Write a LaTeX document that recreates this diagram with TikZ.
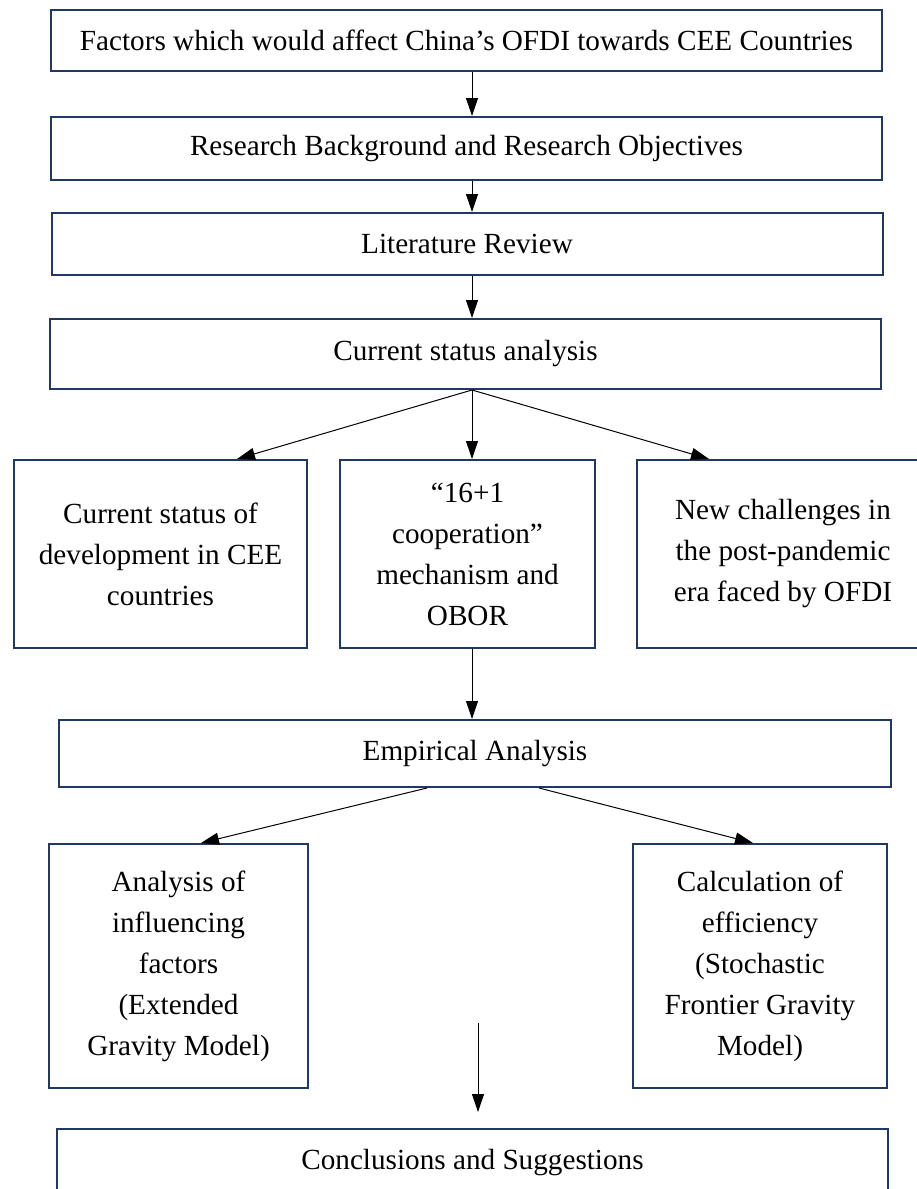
\documentclass[tikz,border=0pt]{standalone}
\usepackage{fontspec}
\setmainfont{Liberation Serif}
\usetikzlibrary{arrows.meta}
\definecolor{boxline}{RGB}{31,56,100}

\begin{document}
\begin{tikzpicture}[x=0.5pt,y=-0.5pt,>={Triangle[length=9pt,width=6pt]},
    font=\fontsize{14.6pt}{20.5pt}\selectfont]
    \tikzstyle{box}=[rectangle,draw=boxline,line width=1pt,fill=white,inner sep=0pt,align=center]
    \tikzstyle{wide}=[box,minimum width=415.5pt]
    \tikzstyle{tall}=[box,minimum height=94pt]
    \tikzstyle{link}=[->,line width=0.5pt]
    \useasboundingbox (0,0) rectangle (916,1189);

    % main column
    \node[wide,minimum height=30.75pt](top) at (466.5,40.25){Factors which would affect China’s OFDI towards CEE Countries};
    \node[wide,minimum height=31.5pt](bg) at (466.5,148.5){Research Background and Research Objectives};
    \node[wide,minimum height=31pt](lit) at (467,244){Literature Review};
    \node[wide,minimum height=35pt](status) at (465.5,354){Current status analysis};

    % current status
    \node[tall,minimum width=146.5pt](cee) at (160.5,554){Current status of\\development in CEE\\countries};
    \node[tall,minimum width=127.5pt](coop) at (467.5,554){“16+1\\cooperation”\\mechanism and\\OBOR};
    \node[tall,minimum width=146pt](chall) at (783,554){New challenges in\\the post-pandemic\\era faced by OFDI};

    \node[wide,minimum width=416pt,minimum height=33.5pt](emp) at (475,753.5){Empirical Analysis};

    % empirical part
    \node[box,minimum width=129.5pt,minimum height=122pt](infl) at (178.5,966){Analysis of\\influencing\\factors\\(Extended\\Gravity Model)};
    \node[box,minimum width=127pt,minimum height=122pt](calc) at (760,966){Calculation of\\efficiency\\(Stochastic\\Frontier Gravity\\Model)};

    \node[wide,minimum height=34pt](concl) at (472.5,1163){Conclusions and Suggestions};

    \coordinate (spine) at (472,0);
    \coordinate (gap) at (478,1023);

    \draw[link] (top.south -| spine) -- (bg.north -| spine);
    \draw[link] (bg.south -| spine) -- (lit.north -| spine);
    \draw[link] (lit.south -| spine) -- (status.north -| spine);
    \draw[link] (status.south -| spine) -- ([xshift=38.25pt]cee.north);
    \draw[link] (status.south -| spine) -- (coop.north -| spine);
    \draw[link] (status.south -| spine) -- ([xshift=-37pt]chall.north);
    \draw[link] (coop.south -| spine) -- (emp.north -| spine);
    \draw[link] ([xshift=-24pt]emp.south) -- ([xshift=11.25pt]infl.north);
    \draw[link] ([xshift=32pt]emp.south) -- ([xshift=-3.5pt]calc.north);
    \draw[link] (gap) -- ([yshift=8pt]concl.north -| gap);
\end{tikzpicture}
\end{document}
